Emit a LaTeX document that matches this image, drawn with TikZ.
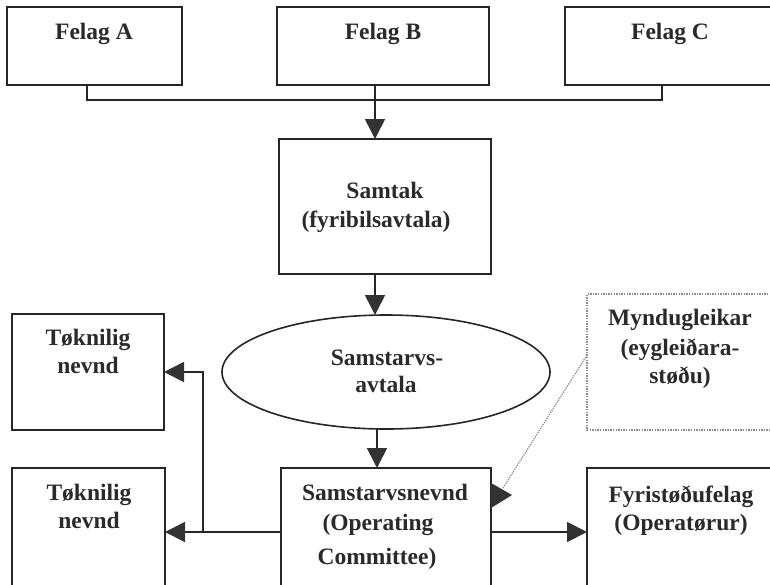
\documentclass[tikz,border=0pt]{standalone}
\usepackage{fontspec}
\setmainfont{Liberation Serif}
\usetikzlibrary{arrows.meta,shapes.geometric}
\definecolor{linec}{HTML}{262626}
\definecolor{arrc}{HTML}{333333}
\definecolor{dotc}{HTML}{8A8A8A}
\definecolor{txtc}{HTML}{2A2A2A}
\begin{document}
\begin{tikzpicture}[x=1pt,y=-1pt,
  box/.style={draw=linec, line width=1.6pt, anchor=north west, inner sep=0pt, outer sep=0pt},
  dotbox/.style={draw=dotc, line width=1.3pt, dash pattern=on 1.4pt off 1.2pt, anchor=north west, inner sep=0pt, outer sep=0pt},
  lbl/.style={font=\bfseries\fontsize{23.5}{28}\selectfont, anchor=base, inner sep=0pt, text=txtc},
  conn/.style={draw=linec, line width=1.6pt},
  arr/.style={conn, -{Triangle[length=20pt,width=20pt,color=arrc]}}
]
\useasboundingbox (0,0) rectangle (770,584);
\clip (0,0) rectangle (770,584);
\fill[white] (0,0) rectangle (770,584);

% boxes
\node[box, minimum width=175pt, minimum height=78pt] (A) at (7,7) {};
\node[box, minimum width=212pt, minimum height=78pt] (B) at (277,7) {};
\node[box, minimum width=215pt, minimum height=78pt] (C) at (565,7) {};
\node[box, minimum width=212pt, minimum height=135pt] (S) at (279,139) {};
\node[draw=linec, line width=1.6pt, ellipse, inner sep=0pt, outer sep=0pt,
      minimum width=328pt, minimum height=114pt] (E) at (386,372) {};
\node[box, minimum width=152pt, minimum height=116pt] (TT) at (12,314) {};
\node[box, minimum width=153pt, minimum height=132pt] (TB) at (12,468) {};
\node[box, minimum width=210pt, minimum height=132pt] (SN) at (281,468) {};
\node[box, minimum width=193pt, minimum height=132pt] (F) at (587,468) {};
\node[dotbox, minimum width=193pt, minimum height=136pt] (M) at (587,294) {};

% texts
\node[lbl] (tA) at (94,39) {Felag A};
\node[lbl] (tB) at (383,39) {Felag B};
\node[lbl] (tC) at (670,39) {Felag C};
\node[lbl] (tS1) at (385,198) {Samtak};
\node[lbl] (tS2) at (376,227) {(fyribilsavtala)};
\node[lbl] (tE1) at (387,365) {Samstarvs-};
\node[lbl] (tE2) at (386,392) {avtala};
\node[lbl] (tTT1) at (88,345) {Tøknilig};
\node[lbl] (tTT2) at (88,373) {nevnd};
\node[lbl] (tTB1) at (89,500) {Tøknilig};
\node[lbl] (tTB2) at (89,528) {nevnd};
\node[lbl] (tSN1) at (385,500) {Samstarvsnevnd};
\node[lbl] (tSN2) at (378,530) {(Operating};
\node[lbl] (tSN3) at (377,564) {Committee)};
\node[lbl] (tM1) at (680,325) {Myndugleikar};
\node[lbl] (tM2) at (680,355) {(eygleiðara-};
\node[lbl] (tM3) at (680,383) {støðu)};
\node[lbl] (tF1) at (681,502) {Fyristøðufelag};
\node[lbl] (tF2) at (681,530) {(Operatørur)};

% connectors
\coordinate (j) at (375,100);
\coordinate (h) at (0,532);
\coordinate (v) at (203,532);
\coordinate (v2) at (203,372);
\coordinate (dt) at (503,488);

\draw[conn] ([xshift=-7.5pt]A.south) |- (j) -| ([xshift=-10.5pt]C.south);
\draw[arr] (B.south -| j) -- (S.north -| j);
\draw[arr] (S.south -| j) -- (E.north -| j);
\draw[arr] (E.south -| 377,0) -- (SN.north -| 377,0);
\draw[arr] (SN.west |- h) -- (TB.east |- h);
\draw[arr] (v) -- (v2) -- (TT.east |- v2);
\draw[arr] (SN.east |- h) -- (F.west |- h);

% dotted link with triangle
\draw[draw=dotc, line width=1.2pt, dash pattern=on 1.3pt off 1.1pt] ([yshift=7pt]M.west) -- (dt);
\fill[arrc] (SN.east |- 0,483) -- (SN.east |- 0,508) -- (512,495) -- cycle;
\end{tikzpicture}
\end{document}
